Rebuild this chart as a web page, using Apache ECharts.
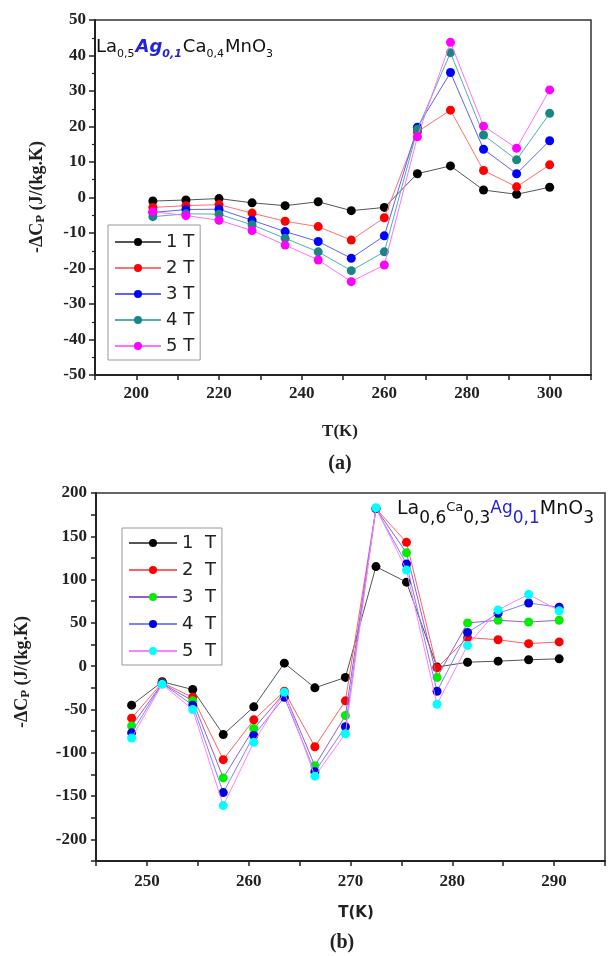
<!DOCTYPE html>
<html><head><meta charset="utf-8">
<script src="https://cdn.jsdelivr.net/npm/echarts@6/dist/echarts.min.js"></script>
<style>html,body{margin:0;padding:0;background:#fff}#c{width:608px;height:956px}</style>
</head><body><div id="c"></div>
<script>
// ---- Panel (a) data ----
const topT = [204,212,220,228,236,244,252,260,268,276,284,292,300];
const topNames = ['1 T','2 T','3 T','4 T','5 T'];
const top1 = [-1.0,-0.7,-0.3,-1.5,-2.3,-1.2,-3.7,-2.8,6.7,8.9,2.1,0.9,2.9];
const top2 = [-2.8,-2.3,-2.0,-4.4,-6.7,-8.2,-12.0,-5.7,18.5,24.6,7.6,3.0,9.2];
const top3 = [-4.2,-3.4,-3.3,-6.4,-9.6,-12.4,-17.1,-10.8,19.8,35.2,13.6,6.7,16.0];
const top4 = [-5.4,-4.6,-4.7,-7.7,-11.5,-15.3,-20.6,-15.3,19.2,40.8,17.6,10.6,23.7];
const top5 = [-4.0,-5.1,-6.4,-9.3,-13.4,-17.6,-23.7,-19.0,17.1,43.7,20.1,13.9,30.3];
const topXTicks = [190,310,10];
const topYTicks = [-50,50,10];

// ---- Panel (b) data ----
const botT = [248.5,251.5,254.5,257.5,260.5,263.5,266.5,269.5,272.5,275.5,278.5,281.5,284.5,287.5,290.5];
const botNames = ['1  T','2  T','3  T','4  T','5  T'];
const bot1 = [-45,-18,-27,-79,-47,3.5,-25,-13,115,97,-1,4.6,5.8,7.4,8.5];
const bot2 = [-60,-19,-36,-108,-62,-29,-93,-40,182,143,-2,33,30.5,26,28];
const bot3 = [-69,-20,-40,-129,-72,-31,-115,-57,182,131,-13,50,53,51,53];
const bot4 = [-77,-20,-45,-146,-80,-36,-122,-70,182,118,-29,39,61,73,68];
const bot5 = [-83,-21,-50,-161,-88,-30,-127,-78,183,111,-44,24,65,83,64];
const botXTicks = [245,295,5];
const botYTicks = [-225,200,25];

const topColors = ['#000000','#ff0000','#0000ff','#1a8585','#ff00ff'];
const topLine = ['#555555','#ff7070','#6060ff','#50b0b0','#ff70ff'];
const botColors = ['#000000','#ff0000','#00ee00','#0000e0','#00ffff'];
const botLine = ['#555555','#ff6060','#9060d0','#8080ff','#ff80ff'];

const serif = 'Liberation Serif';
const sans = 'DejaVu Sans';
const labelStyle = {fontFamily: serif, fontWeight: 'bold', fontSize: 17, color: '#222'};

function pairs(xs, ys){ return xs.map((x,i)=>[x, ys[i]]); }

const topSets = [top1,top2,top3,top4,top5];
const botSets = [bot1,bot2,bot3,bot4,bot5];

const series = [];
topSets.forEach((d,i)=>series.push({
  name: topNames[i], type:'line', xAxisIndex:0, yAxisIndex:0,
  data: pairs(topT,d), symbol:'circle', symbolSize:9, showSymbol:true,
  itemStyle:{color: topColors[i]}, lineStyle:{color: topLine[i], width:1},
  animation:false, z: 2+i
}));
botSets.forEach((d,i)=>series.push({
  name: botNames[i], type:'line', xAxisIndex:1, yAxisIndex:1,
  data: pairs(botT,d), symbol:'circle', symbolSize:9, showSymbol:true,
  itemStyle:{color: botColors[i]}, lineStyle:{color: botLine[i], width:1},
  animation:false, z: 2+i
}));

const axisLine = {show:true, onZero:false, lineStyle:{color:'#222', width:2}};

const option = {
  backgroundColor:'#fff',
  animation:false,
  grid:[
    {left:95, top:20, width:496, height:355, show:true, borderColor:'#333', borderWidth:1.5},
    {left:96, top:493, width:516, height:368, show:true, borderColor:'#333', borderWidth:1.5}
  ],
  xAxis:[
    {gridIndex:0, type:'value', min:topXTicks[0], max:topXTicks[1], interval:topXTicks[2],
     axisLine: axisLine, axisTick:{show:true, inside:false, length:5, lineStyle:{color:'#222', width:1.5}},
     splitLine:{show:false},
     axisLabel:{...labelStyle, margin:10, formatter:v=> (v%20===0 ? String(v) : '')}},
    {gridIndex:1, type:'value', min:botXTicks[0], max:botXTicks[1], interval:botXTicks[2],
     axisLine: axisLine, axisTick:{show:true, length:5, lineStyle:{color:'#222', width:1.5}},
     splitLine:{show:false},
     axisLabel:{...labelStyle, margin:12, formatter:v=> (Math.abs(v%10)<1e-6 ? String(v) : '')}}
  ],
  yAxis:[
    {gridIndex:0, type:'value', min:topYTicks[0], max:topYTicks[1], interval:topYTicks[2],
     axisLine: axisLine, axisTick:{show:true, length:6, lineStyle:{color:'#222', width:1.5}},
     minorTick:{show:true, splitNumber:2, length:3, lineStyle:{color:'#222', width:1.2}},
     splitLine:{show:false}, minorSplitLine:{show:false},
     axisLabel:{...labelStyle, margin:9}},
    {gridIndex:1, type:'value', min:botYTicks[0], max:botYTicks[1], interval:botYTicks[2],
     axisLine: axisLine, axisTick:{show:true, length:5, lineStyle:{color:'#222', width:1.5}},
     splitLine:{show:false},
     axisLabel:{...labelStyle, margin:9, formatter:v=> (v%50===0 ? String(v) : '')}}
  ],
  legend:[
    {data: topNames, orient:'vertical', left:108, top:225, itemWidth:46, itemHeight:10, itemGap:8,
     backgroundColor:'#fff', borderColor:'#999', borderWidth:1, padding:[8,6,5,6],
     textStyle:{fontFamily:sans, fontSize:18, color:'#222'}},
    {data: botNames, orient:'vertical', left:122, top:528, itemWidth:48, itemHeight:10, itemGap:9,
     backgroundColor:'#fff', borderColor:'#999', borderWidth:1, padding:[6,6,5,6],
     textStyle:{fontFamily:sans, fontSize:18, color:'#222'}}
  ],
  graphic:[
    {type:'text', left:96, top:38, z:10, style:{
      text:'{m|La}{s|0,5}{b|Ag}{bs|0,1}{m|Ca}{s|0,4}{m|MnO}{s|3}',
      rich:{
        m:{fontFamily:sans, fontSize:18, fill:'#111'},
        s:{fontFamily:sans, fontSize:11, fill:'#111', padding:[15,1,0,0]},
        b:{fontFamily:sans, fontSize:18, fill:'#2222dd', fontStyle:'italic', fontWeight:'bold'},
        bs:{fontFamily:sans, fontSize:11, fill:'#2222dd', fontStyle:'italic', fontWeight:'bold', padding:[15,1,0,0]}
      }}},
    {type:'text', left:397, top:500, z:10, style:{
      text:'{m|La}{s|0,6}{c|Ca}{s|0,3}{b|Ag}{bs|0,1}{m|MnO}{s|3}',
      rich:{
        m:{fontFamily:sans, fontSize:19, fill:'#111'},
        c:{fontFamily:sans, fontSize:13, fill:'#111', padding:[0,0,4,0]},
        s:{fontFamily:sans, fontSize:17, fill:'#111', padding:[18,0,0,0]},
        b:{fontFamily:sans, fontSize:17, fill:'#2222dd', padding:[0,0,2,0]},
        bs:{fontFamily:sans, fontSize:17, fill:'#2222dd', padding:[18,0,0,0]}
      }}},
    {type:'text', x:37, y:197, rotation:Math.PI/2, z:10, style:{
      text:'{m|-ΔC}{s|P}{m| (J/(kg.K)}', align:'center', verticalAlign:'middle',
      rich:{ m:{fontFamily:serif, fontWeight:'bold', fontSize:18, fill:'#222'},
             s:{fontFamily:serif, fontWeight:'bold', fontSize:13, fill:'#222', padding:[8,0,0,0]} }}},
    {type:'text', x:22, y:672, rotation:Math.PI/2, z:10, style:{
      text:'{m|-ΔC}{s|P}{m| (J/(kg.K)}', align:'center', verticalAlign:'middle',
      rich:{ m:{fontFamily:serif, fontWeight:'bold', fontSize:18, fill:'#222'},
             s:{fontFamily:serif, fontWeight:'bold', fontSize:13, fill:'#222', padding:[8,0,0,0]} }}},
    {type:'text', x:340, y:432, z:10, style:{text:'T(K)', align:'center', verticalAlign:'middle',
      font:'bold 17px "Liberation Serif"', fill:'#222'}},
    {type:'text', x:340, y:464, z:10, style:{text:'(a)', align:'center', verticalAlign:'middle',
      font:'bold 20px "Liberation Serif"', fill:'#222'}},
    {type:'text', x:356, y:913, z:10, style:{text:'T(K)', align:'center', verticalAlign:'middle',
      font:'bold 15px "DejaVu Sans"', fill:'#222'}},
    {type:'text', x:342, y:943, z:10, style:{text:'(b)', align:'center', verticalAlign:'middle',
      font:'bold 20px "Liberation Serif"', fill:'#222'}}
  ],
  series: series
};
const chart = echarts.init(document.getElementById('c'), null, {renderer:'canvas'});
chart.setOption(option);
</script>
</body></html>
